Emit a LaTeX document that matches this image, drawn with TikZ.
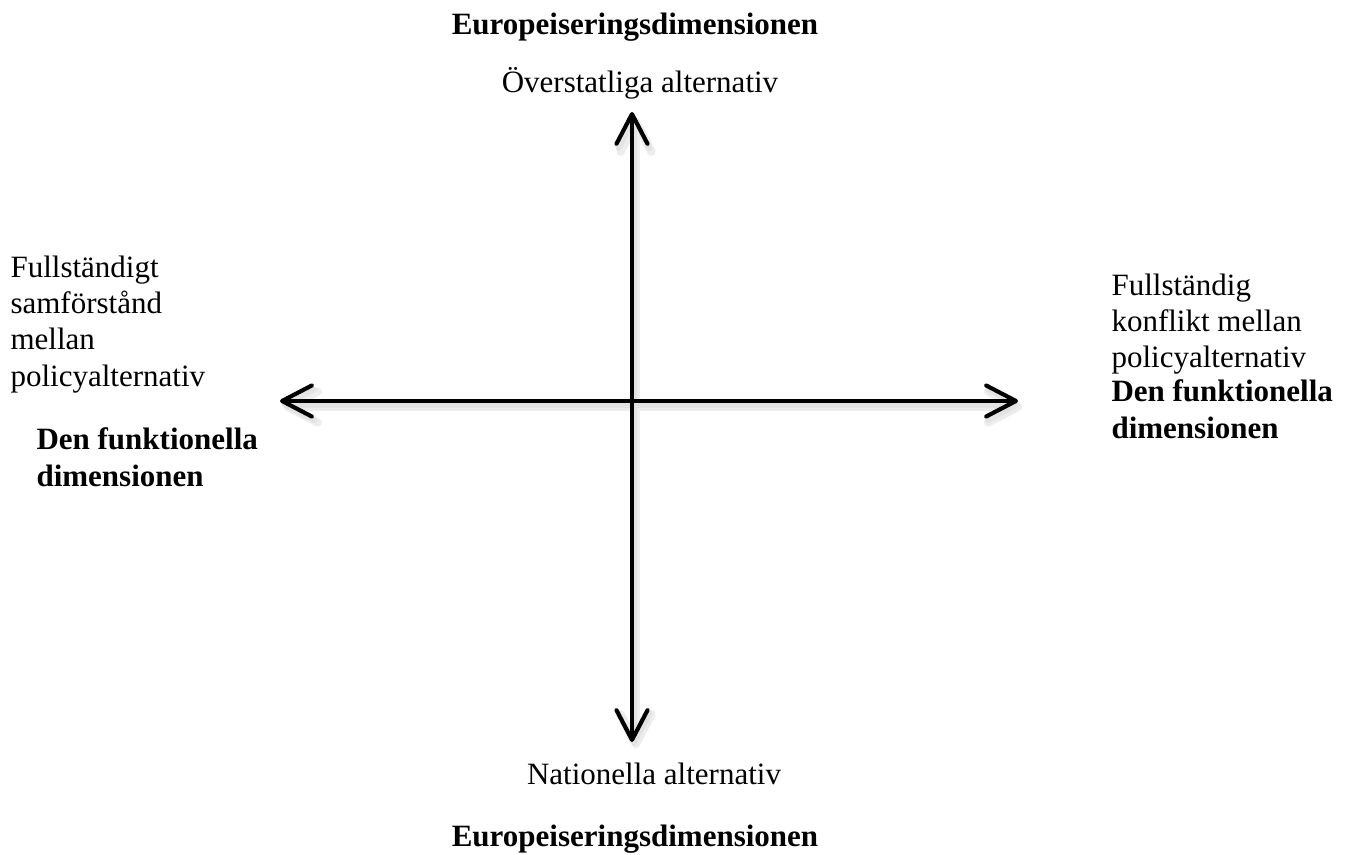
\documentclass[tikz,border=0pt]{standalone}
\usepackage{fontspec}
\setmainfont{Liberation Serif}
\usetikzlibrary{arrows.meta}
\tikzset{
  barb/.tip={Straight Barb[length=11.5pt, width=12pt, line cap=round, line join=round]},
  axis/.style={line width=1.6pt, line cap=round, line join=round, barb-barb},
  axshade/.style={axis, draw=black!7, line width=3.2pt},
  lbl/.style={inner sep=0pt, font=\fontsize{12}{14.1}\selectfont},
  dim/.style={inner sep=0pt, font=\fontsize{12}{14.2}\selectfont\bfseries},
}
\begin{document}
\begin{tikzpicture}[x=0.387pt, y=-0.387pt]
	\useasboundingbox (0,0) rectangle (1353,855);
	\coordinate (top) at (632,112);
	\coordinate (bottom) at (632,742);
	\coordinate (west) at (280,401);
	\coordinate (east) at (1018,401);
	% soft shadow under the axes
	\draw[axshade] ([shift={(4,6)}]bottom) -- ([shift={(4,6)}]top);
	\draw[axshade] ([shift={(4,6)}]west) -- ([shift={(4,6)}]east);
	\draw[axshade, draw=black!11, line width=2pt] ([shift={(2,4)}]bottom) -- ([shift={(2,4)}]top);
	\draw[axshade, draw=black!11, line width=2pt] ([shift={(2,4)}]west) -- ([shift={(2,4)}]east);
	\draw[axis] (bottom) -- (top);
	\draw[axis] (west) -- (east);
	% labels
	\node[dim, anchor=base] (eurotop) at (635,35) {Europeiseringsdimensionen};
	\node[lbl, anchor=base] (supra) at (640,93) {Överstatliga alternativ};
	\node[lbl, anchor=base] (natl) at (654,785) {Nationella alternativ};
	\node[dim, anchor=base] (eurobot) at (635,847) {Europeiseringsdimensionen};
	\node[lbl, anchor=north west, align=left] (consensus) at (10,255) {Fullständigt\\samförstånd\\mellan\\policyalternativ};
	\node[dim, anchor=north west, align=left] (funcwest) at (36,427) {Den funktionella\\dimensionen};
	\node[lbl, anchor=north west, align=left] (conflict) at (1111,273) {Fullständig\\konflikt mellan\\policyalternativ};
	\node[dim, anchor=north west, align=left] (funceast) at (1111,379) {Den funktionella\\dimensionen};
\end{tikzpicture}
\end{document}
